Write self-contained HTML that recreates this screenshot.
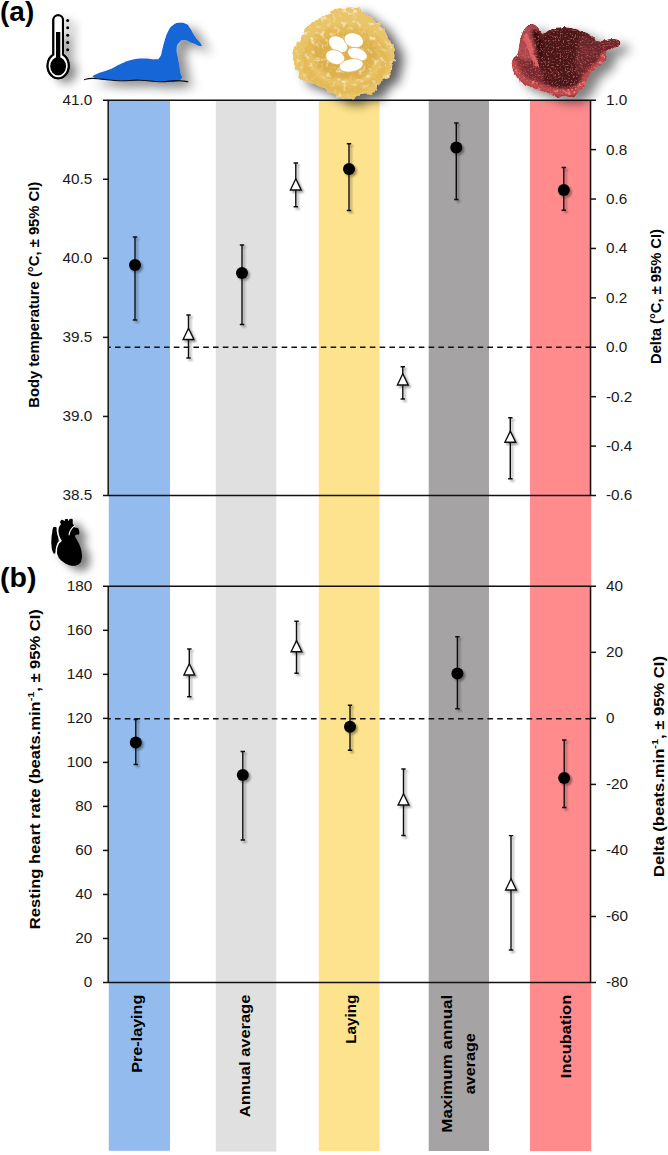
<!DOCTYPE html>
<html><head><meta charset="utf-8"><title>Figure</title>
<style>
html,body{margin:0;padding:0;background:#fff;}
body{width:668px;height:1155px;overflow:hidden;font-family:"Liberation Sans",sans-serif;}
svg{display:block;}
text{font-family:"Liberation Sans",sans-serif;fill:#000;}
.tk{font-size:15.3px;fill:#1a1a1a;}
.ttl{font-size:14.6px;font-weight:bold;}
.pl{font-size:27px;font-weight:bold;}
</style></head><body>
<svg width="668" height="1155" viewBox="0 0 668 1155">
<defs>
<filter id="sh" x="-50%" y="-50%" width="220%" height="220%"><feGaussianBlur in="SourceAlpha" stdDeviation="1.2"/><feOffset dx="1.8" dy="1.8"/><feComponentTransfer><feFuncA type="linear" slope="0.38"/></feComponentTransfer><feMerge><feMergeNode/><feMergeNode in="SourceGraphic"/></feMerge></filter>
</defs>
<rect width="668" height="1155" fill="#fff"/>
<g id="bands">
<rect x="108.8" y="100" width="61.2" height="1050.8" fill="#93bbee"/>
<rect x="215.8" y="100" width="60.5" height="1051.6" fill="#e0e0e0"/>
<rect x="318.8" y="100" width="60.7" height="1051.0" fill="#fde38d"/>
<rect x="428.7" y="100" width="60.3" height="1051.0" fill="#a5a3a4"/>
<rect x="530" y="100" width="61.2" height="1051.0" fill="#ff8b8d"/>
</g>
<g id="axes" stroke="#111" stroke-width="1.5" fill="none">
<line x1="103.0" y1="100.2" x2="596.0" y2="100.2"/>
<line x1="103.0" y1="495.5" x2="596.0" y2="495.5"/>
<line x1="103.0" y1="586.3" x2="596.0" y2="586.3"/>
<line x1="103.0" y1="982.5" x2="596.0" y2="982.5"/>
<line x1="108.2" y1="100.2" x2="108.2" y2="495.5"/>
<line x1="590.5" y1="100.2" x2="590.5" y2="495.5"/>
<line x1="108.2" y1="586.3" x2="108.2" y2="982.5"/>
<line x1="590.5" y1="586.3" x2="590.5" y2="982.5"/>
<line x1="103.0" y1="179.26" x2="108.2" y2="179.26"/>
<line x1="103.0" y1="258.32" x2="108.2" y2="258.32"/>
<line x1="103.0" y1="337.38" x2="108.2" y2="337.38"/>
<line x1="103.0" y1="416.44" x2="108.2" y2="416.44"/>
<line x1="590.5" y1="149.61" x2="596.0" y2="149.61"/>
<line x1="590.5" y1="199.03" x2="596.0" y2="199.03"/>
<line x1="590.5" y1="248.44" x2="596.0" y2="248.44"/>
<line x1="590.5" y1="297.85" x2="596.0" y2="297.85"/>
<line x1="590.5" y1="347.26" x2="596.0" y2="347.26"/>
<line x1="590.5" y1="396.68" x2="596.0" y2="396.68"/>
<line x1="590.5" y1="446.09" x2="596.0" y2="446.09"/>
<line x1="103.0" y1="630.32" x2="108.2" y2="630.32"/>
<line x1="103.0" y1="674.34" x2="108.2" y2="674.34"/>
<line x1="103.0" y1="718.37" x2="108.2" y2="718.37"/>
<line x1="103.0" y1="762.39" x2="108.2" y2="762.39"/>
<line x1="103.0" y1="806.41" x2="108.2" y2="806.41"/>
<line x1="103.0" y1="850.43" x2="108.2" y2="850.43"/>
<line x1="103.0" y1="894.46" x2="108.2" y2="894.46"/>
<line x1="103.0" y1="938.48" x2="108.2" y2="938.48"/>
<line x1="590.5" y1="652.33" x2="596.0" y2="652.33"/>
<line x1="590.5" y1="718.37" x2="596.0" y2="718.37"/>
<line x1="590.5" y1="784.40" x2="596.0" y2="784.40"/>
<line x1="590.5" y1="850.43" x2="596.0" y2="850.43"/>
<line x1="590.5" y1="916.47" x2="596.0" y2="916.47"/>
</g>
<g stroke="#111" stroke-width="1.5" stroke-dasharray="5.6 4.2" stroke-dashoffset="3.8" fill="none">
<line x1="109" y1="347.2" x2="590.5" y2="347.2"/>
<line x1="109" y1="718.7" x2="590.5" y2="718.7"/>
</g>
<g class="tk" text-anchor="end">
<text class="tk" x="92.2" y="105.1">41.0</text>
<text class="tk" x="92.2" y="184.2">40.5</text>
<text class="tk" x="92.2" y="263.2">40.0</text>
<text class="tk" x="92.2" y="342.3">39.5</text>
<text class="tk" x="92.2" y="421.3">39.0</text>
<text class="tk" x="92.2" y="500.4">38.5</text>
<text class="tk" x="92.2" y="591.2">180</text>
<text class="tk" x="92.2" y="635.2">160</text>
<text class="tk" x="92.2" y="679.2">140</text>
<text class="tk" x="92.2" y="723.3">120</text>
<text class="tk" x="92.2" y="767.3">100</text>
<text class="tk" x="92.2" y="811.3">80</text>
<text class="tk" x="92.2" y="855.3">60</text>
<text class="tk" x="92.2" y="899.4">40</text>
<text class="tk" x="92.2" y="943.4">20</text>
<text class="tk" x="92.2" y="987.4">0</text>
</g>
<g class="tk" text-anchor="start">
<text class="tk" x="606" y="105.1">1.0</text>
<text class="tk" x="606" y="154.5">0.8</text>
<text class="tk" x="606" y="203.9">0.6</text>
<text class="tk" x="606" y="253.3">0.4</text>
<text class="tk" x="606" y="302.8">0.2</text>
<text class="tk" x="606" y="352.2">0.0</text>
<text class="tk" x="606" y="401.6">-0.2</text>
<text class="tk" x="606" y="451.0">-0.4</text>
<text class="tk" x="606" y="500.4">-0.6</text>
<text class="tk" x="606" y="591.2">40</text>
<text class="tk" x="606" y="657.2">20</text>
<text class="tk" x="606" y="723.3">0</text>
<text class="tk" x="606" y="789.3">-20</text>
<text class="tk" x="606" y="855.3">-40</text>
<text class="tk" x="606" y="921.4">-60</text>
<text class="tk" x="606" y="987.4">-80</text>
</g>
<text class="ttl" transform="translate(39.3 294.7) rotate(-90)" text-anchor="middle" textLength="226" lengthAdjust="spacingAndGlyphs">Body temperature (°C, ± 95% CI)</text>
<text class="ttl" transform="translate(661 296.5) rotate(-90)" text-anchor="middle" textLength="135" lengthAdjust="spacingAndGlyphs">Delta (°C, ± 95% CI)</text>
<text class="ttl" transform="translate(39.5 769.2) rotate(-90)" text-anchor="middle" textLength="320" lengthAdjust="spacingAndGlyphs">Resting heart rate (beats.min<tspan dy="-5.5" font-size="9.5">-1</tspan><tspan dy="5.5">, ± 95% CI)</tspan></text>
<text class="ttl" transform="translate(663.5 766.5) rotate(-90)" text-anchor="middle" textLength="221" lengthAdjust="spacingAndGlyphs">Delta (beats.min<tspan dy="-5.5" font-size="9.5">-1</tspan><tspan dy="5.5">, ± 95% CI)</tspan></text>
<text class="ttl" transform="translate(141.8 994.7) rotate(-90)" text-anchor="end" textLength="78" lengthAdjust="spacingAndGlyphs">Pre-laying</text>
<text class="ttl" transform="translate(250 994.7) rotate(-90)" text-anchor="end" textLength="122.5" lengthAdjust="spacingAndGlyphs">Annual average</text>
<text class="ttl" transform="translate(356.3 994.7) rotate(-90)" text-anchor="end" textLength="49" lengthAdjust="spacingAndGlyphs">Laying</text>
<text class="ttl" transform="translate(452 994.7) rotate(-90)" text-anchor="end" textLength="138" lengthAdjust="spacingAndGlyphs">Maximum annual</text>
<text class="ttl" transform="translate(474.9 1063.8) rotate(-90)" text-anchor="middle" textLength="61" lengthAdjust="spacingAndGlyphs">average</text>
<text class="ttl" transform="translate(570.9 994.7) rotate(-90)" text-anchor="end" textLength="83.5" lengthAdjust="spacingAndGlyphs">Incubation</text>
<text class="pl" x="0" y="21" textLength="34.2" lengthAdjust="spacingAndGlyphs">(a)</text>
<text class="pl" x="0" y="586.6" textLength="36.4" lengthAdjust="spacingAndGlyphs">(b)</text>
<g id="data" filter="url(#sh)">
<path d="M135 237V320M132.8 237H137.2M132.8 320H137.2" stroke="#111" stroke-width="1.4" fill="none"/><circle cx="135" cy="265" r="6" fill="#000"/>
<path d="M242 245V324.5M239.8 245H244.2M239.8 324.5H244.2" stroke="#111" stroke-width="1.4" fill="none"/><circle cx="242" cy="273" r="6" fill="#000"/>
<path d="M349 143.7V210.5M346.8 143.7H351.2M346.8 210.5H351.2" stroke="#111" stroke-width="1.4" fill="none"/><circle cx="349" cy="169" r="6" fill="#000"/>
<path d="M456.3 123V199.5M454.1 123H458.5M454.1 199.5H458.5" stroke="#111" stroke-width="1.4" fill="none"/><circle cx="456.3" cy="147.5" r="6" fill="#000"/>
<path d="M563.8 167.5V210.3M561.5999999999999 167.5H566.0M561.5999999999999 210.3H566.0" stroke="#111" stroke-width="1.4" fill="none"/><circle cx="563.8" cy="190" r="6" fill="#000"/>
<path d="M135.8 719.5V764.5M133.60000000000002 719.5H138.0M133.60000000000002 764.5H138.0" stroke="#111" stroke-width="1.4" fill="none"/><circle cx="135.8" cy="742.5" r="6" fill="#000"/>
<path d="M242.8 751.5V840M240.60000000000002 751.5H245.0M240.60000000000002 840H245.0" stroke="#111" stroke-width="1.4" fill="none"/><circle cx="242.8" cy="775" r="6" fill="#000"/>
<path d="M350 705.3V750.3M347.8 705.3H352.2M347.8 750.3H352.2" stroke="#111" stroke-width="1.4" fill="none"/><circle cx="350" cy="726.8" r="6" fill="#000"/>
<path d="M457.4 636.8V708.8M455.2 636.8H459.59999999999997M455.2 708.8H459.59999999999997" stroke="#111" stroke-width="1.4" fill="none"/><circle cx="457.4" cy="673.6" r="6" fill="#000"/>
<path d="M564.2 740V807.5M562.0 740H566.4000000000001M562.0 807.5H566.4000000000001" stroke="#111" stroke-width="1.4" fill="none"/><circle cx="564.2" cy="778" r="6" fill="#000"/>
<path d="M188.5 315V358M186.3 315H190.7M186.3 358H190.7" stroke="#111" stroke-width="1.4" fill="none"/><path d="M188.5 328.3L193.9 339.5H183.1Z" fill="#fff" stroke="#111" stroke-width="1.4" stroke-linejoin="miter"/>
<path d="M295.8 163V206.8M293.6 163H298.0M293.6 206.8H298.0" stroke="#111" stroke-width="1.4" fill="none"/><path d="M295.8 178.8L301.2 190H290.40000000000003Z" fill="#fff" stroke="#111" stroke-width="1.4" stroke-linejoin="miter"/>
<path d="M402.8 366.8V399M400.6 366.8H405.0M400.6 399H405.0" stroke="#111" stroke-width="1.4" fill="none"/><path d="M402.8 373.8L408.2 385H397.40000000000003Z" fill="#fff" stroke="#111" stroke-width="1.4" stroke-linejoin="miter"/>
<path d="M510.3 417.8V478.8M508.1 417.8H512.5M508.1 478.8H512.5" stroke="#111" stroke-width="1.4" fill="none"/><path d="M510.3 431.1L515.7 442.3H504.90000000000003Z" fill="#fff" stroke="#111" stroke-width="1.4" stroke-linejoin="miter"/>
<path d="M189.3 649V696.8M187.10000000000002 649H191.5M187.10000000000002 696.8H191.5" stroke="#111" stroke-width="1.4" fill="none"/><path d="M189.3 663.8L194.70000000000002 675H183.9Z" fill="#fff" stroke="#111" stroke-width="1.4" stroke-linejoin="miter"/>
<path d="M296.5 621.3V673.3M294.3 621.3H298.7M294.3 673.3H298.7" stroke="#111" stroke-width="1.4" fill="none"/><path d="M296.5 640.5999999999999L301.9 651.8H291.1Z" fill="#fff" stroke="#111" stroke-width="1.4" stroke-linejoin="miter"/>
<path d="M403.5 769V835.5M401.3 769H405.7M401.3 835.5H405.7" stroke="#111" stroke-width="1.4" fill="none"/><path d="M403.5 793.8L408.9 805H398.1Z" fill="#fff" stroke="#111" stroke-width="1.4" stroke-linejoin="miter"/>
<path d="M511 835.6V950M508.8 835.6H513.2M508.8 950H513.2" stroke="#111" stroke-width="1.4" fill="none"/><path d="M511 878.8L516.4 890H505.6Z" fill="#fff" stroke="#111" stroke-width="1.4" stroke-linejoin="miter"/>
</g>
<defs>
<filter id="shI" x="-40%" y="-40%" width="200%" height="200%"><feGaussianBlur in="SourceAlpha" stdDeviation="5.5"/><feOffset dx="9" dy="5.5"/><feComponentTransfer><feFuncA type="linear" slope="0.62"/></feComponentTransfer><feMerge><feMergeNode/><feMergeNode in="SourceGraphic"/></feMerge></filter>
<filter id="shS" x="-80%" y="-40%" width="300%" height="200%"><feGaussianBlur in="SourceAlpha" stdDeviation="4.5"/><feOffset dx="8" dy="5"/><feComponentTransfer><feFuncA type="linear" slope="0.5"/></feComponentTransfer><feMerge><feMergeNode/><feMergeNode in="SourceGraphic"/></feMerge></filter>
<filter id="shD" x="-40%" y="-60%" width="200%" height="260%"><feGaussianBlur in="SourceAlpha" stdDeviation="5.5"/><feOffset dx="9" dy="6"/><feComponentTransfer><feFuncA type="linear" slope="0.44"/></feComponentTransfer><feMerge><feMergeNode/><feMergeNode in="SourceGraphic"/></feMerge></filter>
<filter id="shH" x="-40%" y="-40%" width="200%" height="200%"><feGaussianBlur in="SourceAlpha" stdDeviation="5.5"/><feOffset dx="9" dy="5.5"/><feComponentTransfer><feFuncA type="linear" slope="0.5"/></feComponentTransfer><feMerge><feMergeNode/><feMergeNode in="SourceGraphic"/></feMerge></filter>
<filter id="soft" x="-20%" y="-20%" width="140%" height="140%"><feGaussianBlur stdDeviation="1.6"/></filter>
<filter id="nestTex" x="-5%" y="-5%" width="110%" height="110%">
<feTurbulence type="fractalNoise" baseFrequency="0.16" numOctaves="2" seed="4" result="dn"/>
<feDisplacementMap in="SourceGraphic" in2="dn" scale="6" xChannelSelector="R" yChannelSelector="G" result="sg"/>
<feTurbulence type="fractalNoise" baseFrequency="0.19" numOctaves="3" seed="7" result="n"/>
<feColorMatrix in="n" type="matrix" values="0 0 0 0 0.96  0 0 0 0 0.87  0 0 0 0 0.60  3.2 0 0 0 -1.85" result="lt"/>
<feColorMatrix in="n" type="matrix" values="0 0 0 0 0.83  0 0 0 0 0.63  0 0 0 0 0.24  0 -3.2 0 0 1.25" result="dk"/>
<feMerge result="m"><feMergeNode in="sg"/><feMergeNode in="dk"/><feMergeNode in="lt"/></feMerge>
<feComposite in="m" in2="sg" operator="in"/>
</filter>
<filter id="henTex" x="-5%" y="-5%" width="110%" height="110%">
<feTurbulence type="fractalNoise" baseFrequency="0.3" numOctaves="2" seed="9" result="dn"/>
<feDisplacementMap in="SourceGraphic" in2="dn" scale="3" xChannelSelector="R" yChannelSelector="G" result="sg"/>
<feTurbulence type="fractalNoise" baseFrequency="0.6" numOctaves="2" seed="11" result="n"/>
<feColorMatrix in="n" type="matrix" values="0 0 0 0 0.60  0 0 0 0 0.19  0 0 0 0 0.21  2.2 0 0 0 -1.25" result="lt"/>
<feColorMatrix in="n" type="matrix" values="0 0 0 0 0.20  0 0 0 0 0.03  0 0 0 0 0.04  0 -2.6 0 0 0.95" result="dk"/>
<feMerge result="m"><feMergeNode in="sg"/><feMergeNode in="dk"/><feMergeNode in="lt"/></feMerge>
<feComposite in="m" in2="sg" operator="in"/>
</filter>
</defs>
<g id="thermo" filter="url(#shS)"><path d="M53.35 54.57V20.1A4.8 4.8 0 0 1 62.95 20.1V54.57A10.55 12.5 0 1 1 53.35 54.57Z" fill="none" stroke="#000" stroke-width="2.1"/><ellipse cx="58.15" cy="66.3" rx="7.9" ry="9.2" fill="#000"/><rect x="56" y="32" width="4.3" height="28" fill="#000"/><circle cx="67.7" cy="20.4" r="1.5" fill="#000"/><circle cx="67.7" cy="27.8" r="1.5" fill="#000"/><circle cx="67.7" cy="35.2" r="1.5" fill="#000"/><circle cx="67.7" cy="42.6" r="1.5" fill="#000"/><circle cx="67.7" cy="49.8" r="1.5" fill="#000"/></g><path d="M53.35 54.57V20.1A4.8 4.8 0 0 1 62.95 20.1V54.57A10.55 12.5 0 1 1 53.35 54.57Z" fill="#fff" stroke="#000" stroke-width="2.1"/><ellipse cx="58.15" cy="66.3" rx="7.9" ry="9.2" fill="#000"/><rect x="56" y="32" width="4.3" height="28" fill="#000"/>
<g id="duck" filter="url(#shD)"><path d="M93.6 77.2C91.8 75.8 92.7 75.9 97.1 73.8C101.4 71.7 103.9 71.7 110.1 69.2C116.2 66.6 114.2 66.7 120.1 64.2C126.0 61.6 125.7 61.2 132.2 59.7C138.6 58.3 138.0 58.7 144.2 58.5C150.3 58.4 151.1 59.7 155.2 59.3C159.4 59.0 158.0 59.8 159.8 57.3C161.7 54.9 161.1 54.2 162.2 50.1C163.4 46.1 162.6 47.2 164.3 42.1C165.9 37.0 165.9 35.6 168.3 31.1C170.7 26.5 170.3 27.2 173.3 25.0C176.2 22.9 175.8 23.1 179.3 22.8C182.8 22.6 183.5 22.7 186.3 24.0C189.2 25.4 187.5 24.6 189.9 28.1C192.3 31.5 192.4 32.8 195.3 37.1C198.3 41.4 199.7 41.7 201.0 44.1C202.2 46.5 202.3 46.4 200.0 46.1C197.7 45.8 196.5 44.7 192.3 43.1C188.2 41.5 187.7 40.4 184.3 40.1C180.9 39.8 181.7 40.0 179.7 42.1C177.7 44.2 177.2 43.8 176.7 48.1C176.2 52.4 177.0 52.3 177.9 58.1C178.7 64.0 179.5 64.3 179.9 70.2C180.3 76.1 184.7 77.1 179.5 80.2C174.3 83.3 170.7 81.8 160.2 81.8C149.8 81.8 150.9 80.5 140.2 80.2C129.5 79.9 129.7 80.9 120.1 80.6C110.5 80.3 111.1 80.1 104.1 79.2C97.0 78.3 95.5 78.6 93.6 77.2Z" fill="#1766d8"/><path d="M84.0 79.8C86.2 79.4 86.7 78.5 92.0 78.4C97.4 78.3 96.6 78.8 104.1 79.4C111.6 80.1 110.5 80.6 120.1 80.8C129.7 81.0 129.5 79.9 140.2 80.2C150.9 80.5 150.6 81.7 160.2 81.8C169.9 81.9 168.8 80.6 176.3 80.6C183.8 80.6 185.1 81.5 188.3 81.8" fill="none" stroke="#111" stroke-width="1.1"/></g>
<g id="nest" filter="url(#shI)"><clipPath id="nestClip"><path d="M340.2 9.0C348.3 7.9 348.8 6.3 357.2 8.4C365.7 10.5 361.3 11.4 368.3 16.0C375.2 20.7 374.3 17.5 380.3 24.1C386.3 30.7 383.8 29.4 388.3 38.1C392.8 46.8 394.4 44.7 395.3 53.2C396.2 61.6 392.8 59.3 391.3 66.2C389.8 73.1 393.6 71.4 390.3 76.2C387.0 81.0 385.1 77.4 380.3 82.2C375.5 87.1 380.3 88.4 374.3 92.3C368.3 96.2 368.1 93.4 360.2 95.3C352.4 97.2 356.0 99.0 348.2 98.7C340.4 98.4 342.6 98.0 334.2 94.3C325.7 90.6 327.9 89.9 320.1 86.3C312.3 82.6 314.4 85.3 308.1 82.2C301.8 79.2 303.3 82.2 299.1 76.2C294.8 70.2 295.8 70.0 294.0 62.2C292.2 54.4 291.2 56.8 293.0 50.2C294.8 43.5 296.1 46.7 300.1 40.1C304.0 33.5 300.1 34.7 306.1 28.1C312.1 21.5 312.9 22.9 320.1 18.1C327.3 13.2 324.1 14.7 330.2 12.0C336.2 9.3 332.1 10.1 340.2 9.0Z"/></clipPath><g filter="url(#nestTex)"><path d="M340.2 9.0C348.3 7.9 348.8 6.3 357.2 8.4C365.7 10.5 361.3 11.4 368.3 16.0C375.2 20.7 374.3 17.5 380.3 24.1C386.3 30.7 383.8 29.4 388.3 38.1C392.8 46.8 394.4 44.7 395.3 53.2C396.2 61.6 392.8 59.3 391.3 66.2C389.8 73.1 393.6 71.4 390.3 76.2C387.0 81.0 385.1 77.4 380.3 82.2C375.5 87.1 380.3 88.4 374.3 92.3C368.3 96.2 368.1 93.4 360.2 95.3C352.4 97.2 356.0 99.0 348.2 98.7C340.4 98.4 342.6 98.0 334.2 94.3C325.7 90.6 327.9 89.9 320.1 86.3C312.3 82.6 314.4 85.3 308.1 82.2C301.8 79.2 303.3 82.2 299.1 76.2C294.8 70.2 295.8 70.0 294.0 62.2C292.2 54.4 291.2 56.8 293.0 50.2C294.8 43.5 296.1 46.7 300.1 40.1C304.0 33.5 300.1 34.7 306.1 28.1C312.1 21.5 312.9 22.9 320.1 18.1C327.3 13.2 324.1 14.7 330.2 12.0C336.2 9.3 332.1 10.1 340.2 9.0Z" fill="#eac467"/><g clip-path="url(#nestClip)"><g filter="url(#soft)"><ellipse cx="345" cy="53" rx="33" ry="27" fill="#deb04b"/><ellipse cx="345" cy="60" rx="40" ry="30" fill="none" stroke="#e4b957" stroke-width="8"/></g></g></g><ellipse cx="338.2" cy="44.3" rx="10.5" ry="7.4" transform="rotate(35 338.2 44.3)" fill="#fff" stroke="#dcae4c" stroke-width="0.7"/><ellipse cx="353.8" cy="40.3" rx="9.9" ry="7.3" transform="rotate(18 353.8 40.3)" fill="#fff" stroke="#dcae4c" stroke-width="0.7"/><ellipse cx="335.2" cy="57.2" rx="9.9" ry="7.1" transform="rotate(20 335.2 57.2)" fill="#fff" stroke="#dcae4c" stroke-width="0.7"/><ellipse cx="357.4" cy="54.2" rx="10.3" ry="6.2" transform="rotate(20 357.4 54.2)" fill="#fff" stroke="#dcae4c" stroke-width="0.7"/><ellipse cx="351.2" cy="65.4" rx="12.2" ry="6.5" transform="rotate(-10 351.2 65.4)" fill="#fff" stroke="#dcae4c" stroke-width="0.7"/></g>
<clipPath id="henClip"><path d="M530.9 24.1C533.8 24.1 534.6 24.6 537.2 26.8C539.8 29.0 538.9 30.5 540.8 32.2C542.7 33.9 541.8 33.8 544.4 33.1C547.0 32.4 546.5 31.0 550.7 29.5C554.9 28.0 554.7 27.7 560.0 27.3C565.3 26.9 564.9 27.0 570.5 27.9C576.1 28.8 575.1 28.3 581.0 30.5C586.9 32.7 588.3 33.4 592.5 36.2C596.7 39.0 593.6 39.9 596.7 41.0C599.8 42.1 599.8 41.0 604.0 40.4C608.2 39.8 608.2 38.7 612.4 38.9C616.6 39.1 618.2 39.2 619.7 41.0C621.2 42.8 620.1 43.6 618.2 45.7C616.3 47.8 615.6 47.3 612.4 48.8C609.2 50.3 607.6 48.7 606.1 51.4C604.6 54.1 607.7 55.4 606.6 58.8C605.5 62.2 605.1 61.2 601.9 64.0C598.7 66.8 598.2 65.9 594.6 69.3C591.0 72.7 590.8 72.4 588.3 76.6C585.8 80.8 587.6 81.1 585.1 85.0C582.6 88.9 582.1 87.9 578.9 91.3C575.7 94.7 576.9 96.4 573.2 97.7C569.5 99.0 569.7 96.2 565.1 96.0C560.5 95.8 560.4 97.5 556.1 96.8C551.8 96.1 553.2 94.9 548.9 93.2C544.6 91.5 544.7 92.2 539.9 90.5C535.1 88.8 535.7 89.1 530.9 87.0C526.1 84.9 526.1 85.6 522.0 82.5C517.9 79.4 518.3 79.6 515.7 75.3C513.1 71.0 512.8 70.6 512.1 66.3C511.4 62.0 511.6 62.5 513.0 59.1C514.4 55.7 515.8 57.5 517.5 53.7C519.2 49.9 518.1 50.0 519.3 44.7C520.5 39.4 520.1 38.8 522.0 34.0C523.9 29.2 524.1 29.4 526.5 26.8C528.9 24.2 528.0 24.1 530.9 24.1Z"/></clipPath><g id="hen" filter="url(#shH)"><g filter="url(#henTex)"><path d="M530.9 24.1C533.8 24.1 534.6 24.6 537.2 26.8C539.8 29.0 538.9 30.5 540.8 32.2C542.7 33.9 541.8 33.8 544.4 33.1C547.0 32.4 546.5 31.0 550.7 29.5C554.9 28.0 554.7 27.7 560.0 27.3C565.3 26.9 564.9 27.0 570.5 27.9C576.1 28.8 575.1 28.3 581.0 30.5C586.9 32.7 588.3 33.4 592.5 36.2C596.7 39.0 593.6 39.9 596.7 41.0C599.8 42.1 599.8 41.0 604.0 40.4C608.2 39.8 608.2 38.7 612.4 38.9C616.6 39.1 618.2 39.2 619.7 41.0C621.2 42.8 620.1 43.6 618.2 45.7C616.3 47.8 615.6 47.3 612.4 48.8C609.2 50.3 607.6 48.7 606.1 51.4C604.6 54.1 607.7 55.4 606.6 58.8C605.5 62.2 605.1 61.2 601.9 64.0C598.7 66.8 598.2 65.9 594.6 69.3C591.0 72.7 590.8 72.4 588.3 76.6C585.8 80.8 587.6 81.1 585.1 85.0C582.6 88.9 582.1 87.9 578.9 91.3C575.7 94.7 576.9 96.4 573.2 97.7C569.5 99.0 569.7 96.2 565.1 96.0C560.5 95.8 560.4 97.5 556.1 96.8C551.8 96.1 553.2 94.9 548.9 93.2C544.6 91.5 544.7 92.2 539.9 90.5C535.1 88.8 535.7 89.1 530.9 87.0C526.1 84.9 526.1 85.6 522.0 82.5C517.9 79.4 518.3 79.6 515.7 75.3C513.1 71.0 512.8 70.6 512.1 66.3C511.4 62.0 511.6 62.5 513.0 59.1C514.4 55.7 515.8 57.5 517.5 53.7C519.2 49.9 518.1 50.0 519.3 44.7C520.5 39.4 520.1 38.8 522.0 34.0C523.9 29.2 524.1 29.4 526.5 26.8C528.9 24.2 528.0 24.1 530.9 24.1Z" fill="#7c292d"/><g clip-path="url(#henClip)"><g filter="url(#soft)"><path d="M543.0 36.0C545.7 30.7 545.9 32.1 551.0 30.0C556.1 27.9 554.3 27.9 562.0 28.0C569.7 28.1 572.0 28.2 580.0 30.5C588.0 32.8 587.2 33.7 592.0 36.5C596.8 39.3 594.3 39.5 598.0 41.0C601.7 42.5 603.9 39.1 606.0 42.0C608.1 44.9 606.5 47.5 606.0 52.0C605.5 56.5 606.1 55.3 604.0 59.0C601.9 62.7 601.7 62.5 598.0 66.0C594.3 69.5 593.7 68.5 590.0 72.0C586.3 75.5 588.0 75.5 584.0 79.0C580.0 82.5 581.4 82.6 575.0 85.0C568.6 87.4 567.2 88.0 560.0 88.0C552.8 88.0 553.1 87.4 548.0 85.0C542.9 82.6 543.4 84.1 541.0 79.0C538.6 73.9 539.0 73.7 539.0 66.0C539.0 58.3 539.9 58.0 541.0 50.0C542.1 42.0 540.3 41.3 543.0 36.0Z" fill="#4d1518"/><path d="M581.0 37.0C585.0 33.9 586.1 36.6 592.0 38.5C597.9 40.4 599.8 39.1 603.0 44.0C606.2 48.9 605.9 51.1 604.0 57.0C602.1 62.9 600.3 62.0 596.0 66.0C591.7 70.0 592.0 69.1 588.0 72.0C584.0 74.9 584.2 78.6 581.0 77.0C577.8 75.4 577.1 73.2 576.0 66.0C574.9 58.8 575.7 57.7 577.0 50.0C578.3 42.3 577.0 40.1 581.0 37.0Z" fill="#6b2529"/><path d="M598.0 42.0C598.8 40.0 600.2 41.2 604.0 40.4C607.8 39.6 608.2 38.7 612.4 38.9C616.6 39.1 618.2 39.2 619.7 41.0C621.2 42.8 620.1 43.6 618.2 45.7C616.3 47.8 615.7 47.3 612.4 48.8C609.1 50.3 609.0 51.6 606.0 51.4C603.0 51.2 603.1 50.5 601.0 48.0C598.9 45.5 597.2 44.0 598.0 42.0Z" fill="#6e2428"/><path d="M514.0 58.0C516.1 54.5 516.7 53.0 521.0 53.0C525.3 53.0 525.5 54.5 530.0 58.0C534.5 61.5 534.3 61.2 538.0 66.0C541.7 70.8 543.5 72.3 544.0 76.0C544.5 79.7 544.0 79.7 540.0 80.0C536.0 80.3 534.6 78.9 529.0 77.0C523.4 75.1 523.3 75.9 519.0 73.0C514.7 70.1 514.3 70.0 513.0 66.0C511.7 62.0 511.9 61.5 514.0 58.0Z" fill="#7a2a2d"/><path d="M519.5 40.7C521.3 34.5 520.3 35.0 522.8 30.8C525.3 26.6 525.4 26.4 528.7 25.0C532.0 23.6 532.5 24.3 535.0 25.4C537.5 26.5 538.4 25.1 538.1 29.0C537.8 32.9 534.8 34.4 534.0 40.0C533.2 45.6 535.3 45.2 535.0 50.0C534.7 54.8 535.1 55.3 533.0 58.0C530.9 60.7 530.5 60.0 527.0 60.0C523.5 60.0 522.9 59.6 520.0 58.0C517.1 56.4 516.1 58.6 516.0 54.0C515.9 49.4 517.7 46.9 519.5 40.7Z" fill="#b04a4d"/><path d="M531.5 31.7C532.1 28.1 534.2 28.2 536.8 29.9C539.4 31.6 539.5 32.7 541.2 38.0C542.9 43.3 543.2 43.6 543.0 49.6C542.8 55.6 541.9 59.2 540.4 60.4C538.9 61.6 538.8 58.6 537.2 54.1C535.6 49.6 535.9 49.4 534.4 43.4C532.9 37.4 530.9 35.3 531.5 31.7Z" fill="#3a0d10"/><path d="M513.5 63.0C514.7 65.9 514.7 69.1 518.0 74.0C521.3 78.9 520.4 78.0 526.0 81.5C531.6 85.0 532.1 84.3 539.0 87.0C545.9 89.7 545.1 89.9 552.0 91.5C558.9 93.1 558.9 93.0 565.0 93.0C571.1 93.0 570.5 93.6 575.0 91.5C579.5 89.4 578.8 88.9 582.0 85.0C585.2 81.1 583.8 81.3 587.0 77.0C590.2 72.7 590.3 72.7 594.0 69.0C597.7 65.3 597.9 66.7 601.0 63.0C604.1 59.3 604.3 57.1 605.5 55.0" fill="none" stroke="#c0484b" stroke-width="7.5" stroke-linecap="round"/></g><path d="M525.5 33.5C526.6 32.9 526.4 32.4 527.8 34.8C529.2 37.2 528.7 36.9 530.7 42.5C532.7 48.1 533.1 49.9 535.2 55.9C537.3 61.9 538.5 62.2 538.7 64.9C538.9 67.6 537.7 67.6 535.9 66.2C534.1 64.8 534.4 64.6 532.1 59.5C529.8 54.4 529.3 53.0 527.1 47.0C524.9 41.0 524.1 40.6 523.7 37.0C523.3 33.4 524.4 34.1 525.5 33.5Z" fill="#df6264"/><path d="M581 48L596 50.2M582 50.6L597.5 52.8M583 53.2L595 55.4M584 55.8L593 57.6M577 56L583.5 70M580 55.5L588.5 66.5M574 60L578.5 74M571 63L574 77M598 44.2L612 42M600 46.8L614 44.8M545 70L552 80M549 68L557 79M553 67L561 78" stroke="#a54246" stroke-width="0.7" fill="none" opacity="0.85"/><path d="M516 62L527 66M515 65L526 70M517 69L528 74M520 58L531 62" stroke="#b04a4e" stroke-width="0.7" fill="none" opacity="0.8"/><circle cx="595.1" cy="68.4" r="1.1" fill="#f27a7a"/><circle cx="602.8" cy="55.4" r="1.2" fill="#f27a7a"/><circle cx="599.5" cy="61.9" r="1.1" fill="#f27a7a"/><circle cx="579.2" cy="85.5" r="0.7" fill="#f27a7a"/><circle cx="556.2" cy="91.2" r="1.1" fill="#f27a7a"/><circle cx="519.7" cy="73.2" r="0.6" fill="#f27a7a"/><circle cx="513.0" cy="67.7" r="1.1" fill="#f27a7a"/><circle cx="554.6" cy="93.9" r="1.0" fill="#f27a7a"/><circle cx="539.2" cy="89.0" r="1.1" fill="#f27a7a"/><circle cx="551.9" cy="93.7" r="0.8" fill="#f27a7a"/><circle cx="568.5" cy="90.1" r="1.0" fill="#f27a7a"/><circle cx="564.9" cy="91.9" r="1.0" fill="#f27a7a"/><circle cx="533.3" cy="81.9" r="1.2" fill="#f27a7a"/><circle cx="517.1" cy="73.0" r="0.9" fill="#f27a7a"/><circle cx="578.0" cy="86.7" r="0.6" fill="#f27a7a"/><circle cx="536.4" cy="83.0" r="0.7" fill="#f27a7a"/><circle cx="583.0" cy="82.4" r="1.1" fill="#f27a7a"/><circle cx="524.1" cy="77.8" r="0.8" fill="#f27a7a"/><circle cx="579.6" cy="84.6" r="1.0" fill="#f27a7a"/><circle cx="532.5" cy="83.6" r="0.8" fill="#f27a7a"/><circle cx="569.6" cy="93.2" r="1.0" fill="#f27a7a"/><circle cx="563.3" cy="90.7" r="1.2" fill="#f27a7a"/><circle cx="591.1" cy="70.8" r="0.8" fill="#f27a7a"/><circle cx="557.5" cy="90.0" r="1.1" fill="#f27a7a"/><circle cx="516.3" cy="70.4" r="1.2" fill="#f27a7a"/><circle cx="601.3" cy="64.7" r="0.7" fill="#f27a7a"/><circle cx="575.4" cy="88.7" r="0.7" fill="#f27a7a"/><circle cx="602.3" cy="63.7" r="0.9" fill="#f27a7a"/><circle cx="568.7" cy="91.8" r="0.7" fill="#f27a7a"/><circle cx="580.9" cy="84.6" r="1.2" fill="#f27a7a"/><circle cx="566.8" cy="92.8" r="0.9" fill="#f27a7a"/><circle cx="591.0" cy="75.5" r="1.0" fill="#f27a7a"/><circle cx="600.2" cy="63.0" r="1.0" fill="#f27a7a"/><circle cx="585.7" cy="84.0" r="1.2" fill="#f27a7a"/><circle cx="571.9" cy="89.6" r="0.9" fill="#f27a7a"/><circle cx="555.1" cy="90.9" r="0.9" fill="#f27a7a"/><circle cx="603.8" cy="57.3" r="1.0" fill="#f27a7a"/><circle cx="579.2" cy="91.1" r="1.0" fill="#f27a7a"/><circle cx="574.7" cy="91.7" r="0.7" fill="#f27a7a"/><circle cx="574.3" cy="92.6" r="1.0" fill="#f27a7a"/></g></g></g>
<g id="heart" filter="url(#shS)"><path d="M53.0 528.0C53.6 526.5 53.6 527.2 54.5 527.1C55.4 527.0 55.7 526.2 56.4 527.6C57.0 529.0 56.3 529.2 56.9 532.5C57.5 535.7 58.4 537.1 58.6 539.9C58.8 542.7 58.2 540.9 57.5 542.9C56.8 544.9 56.7 544.6 56.0 547.4C55.3 550.2 55.8 552.4 54.9 553.4C54.0 554.4 53.5 553.4 52.6 551.2C51.7 549.0 51.8 548.6 51.5 545.2C51.2 541.8 51.3 541.8 51.5 538.4C51.7 535.0 51.8 535.2 52.2 532.5C52.6 529.7 52.4 529.4 53.0 528.0Z" fill="#000"/><path d="M60.8 524.2C60.4 524.9 59.5 525.3 59.0 527.2C58.5 529.1 58.3 530.0 58.6 532.5C58.9 535.0 59.4 535.7 60.1 537.7C60.8 539.7 62.0 539.5 61.6 541.1C61.2 542.7 59.6 542.2 58.6 544.4C57.6 546.6 57.2 547.6 57.1 550.4C57.0 553.2 57.9 555.0 58.2 556.4" fill="none" stroke="#fff" stroke-width="2.4"/><path d="M60.1 522.0C60.4 520.9 61.0 520.1 62.0 519.7C62.9 519.4 63.6 520.6 64.2 520.5C64.8 520.4 63.8 519.7 64.6 519.4C65.4 519.0 66.8 518.9 67.6 519.1C68.4 519.4 67.6 520.4 68.0 520.5C68.3 520.5 68.0 519.7 69.1 519.4C70.1 519.0 71.6 518.2 72.4 519.1C73.3 520.1 72.5 522.0 72.8 523.5C73.2 524.9 73.5 524.4 73.9 525.3C74.4 526.3 73.7 526.9 74.7 527.6C75.6 528.3 77.0 526.9 78.1 528.3C79.1 529.8 79.6 532.5 79.2 534.0C78.7 535.4 77.1 534.1 76.2 534.7C75.2 535.3 74.9 535.3 75.1 536.6C75.2 537.8 75.8 537.8 76.9 539.9C78.1 542.1 78.8 542.8 79.9 545.9C81.1 549.1 81.5 550.1 81.8 553.4C82.1 556.7 82.0 557.7 81.4 560.1C80.8 562.6 80.9 562.6 79.2 563.9C77.4 565.2 76.4 565.5 73.9 565.8C71.5 566.0 71.3 566.0 68.7 565.0C66.1 564.1 65.2 563.7 62.7 561.6C60.3 559.6 59.5 559.0 58.2 556.4C56.9 553.8 57.0 553.2 57.1 550.4C57.2 547.6 57.5 546.6 58.6 544.4C59.6 542.2 61.2 542.6 61.6 541.1C61.9 539.5 60.8 539.7 60.1 537.7C59.4 535.7 58.9 534.9 58.6 532.5C58.3 530.0 58.4 529.1 59.0 527.2C59.5 525.3 60.6 525.4 60.8 524.2C61.1 523.0 59.8 523.0 60.1 522.0Z" fill="#000"/><path d="M64.45 518.3V520.9M68.55 518.3V520.7" stroke="#fff" stroke-width="0.9" fill="none"/><path d="M74.5 525.9C73.6 526.7 72.6 527.3 71.3 529.1C70.0 530.8 70.2 530.8 69.6 532.5C69.0 534.1 69.2 534.5 69.1 535.3" fill="none" stroke="#fff" stroke-width="1.1"/></g>
</svg>
</body></html>
